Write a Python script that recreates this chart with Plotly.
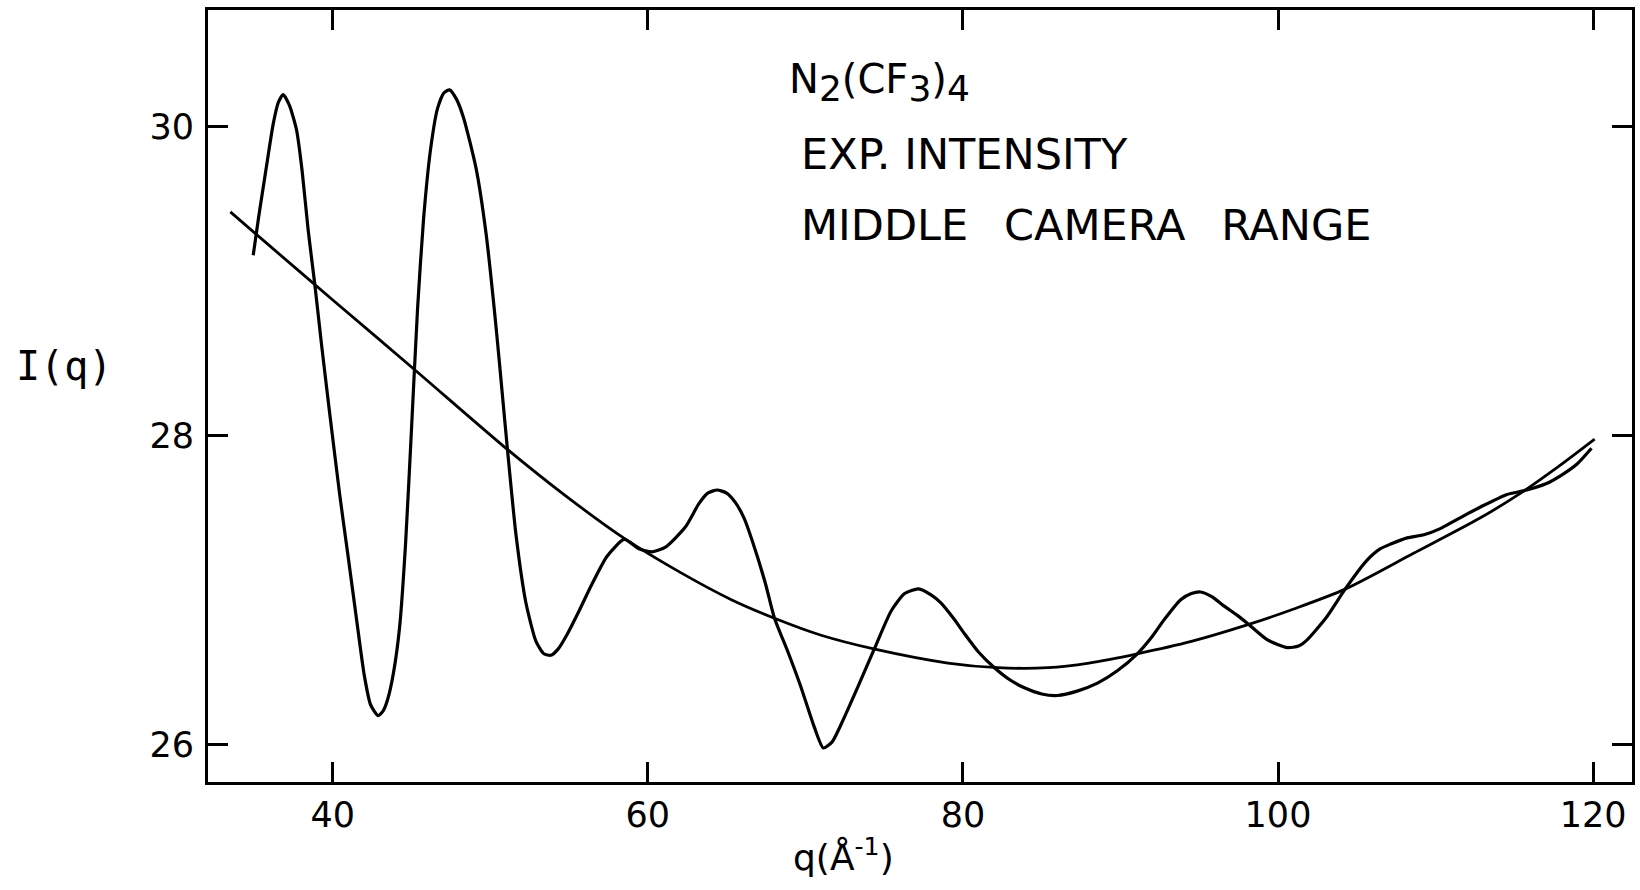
import plotly.graph_objects as go

# Experimental intensity I(q)
exp_q = [34.95, 35.30, 35.80, 36.22, 36.55, 36.85, 37.25, 37.70, 38.05, 38.44, 38.86, 39.30, 39.80,
         40.44, 41.00, 41.50, 42.00, 42.40, 42.87, 43.20, 43.50, 43.86, 44.24, 44.62, 45.00, 45.38,
         45.76, 46.20, 46.65, 47.05, 47.41, 47.85, 48.30, 49.10, 49.73, 50.37, 50.79, 51.10, 51.63,
         52.26, 52.90, 53.40, 53.84, 54.30, 54.90, 55.60, 56.40, 57.40, 58.50, 59.43, 60.27, 61.12,
         62.38, 63.23, 63.80, 64.40, 65.00, 65.55, 66.10, 66.60, 67.45, 68.04, 68.90, 69.70, 70.55,
         71.14, 71.70, 72.30, 73.35, 74.41, 75.46, 76.30, 77.18, 78.00, 78.60, 79.40, 80.10, 81.00,
         82.00, 83.00, 83.90, 85.00, 86.00, 87.30, 88.54, 89.80, 91.07, 92.00, 92.77, 93.82, 94.50,
         95.08, 95.80, 96.56, 97.40, 98.14, 99.33, 100.60, 101.30, 101.85, 103.10, 104.27, 105.60,
         106.50, 107.15, 108.20, 109.26, 110.30, 111.20, 112.10, 112.85, 114.50, 115.80, 117.00,
         117.90, 119.00, 119.90]
exp_I = [29.17, 29.42, 29.75, 30.02, 30.16, 30.21, 30.14, 29.98, 29.72, 29.33, 28.98, 28.58, 28.15,
         27.62, 27.20, 26.82, 26.45, 26.26, 26.19, 26.22, 26.30, 26.47, 26.76, 27.30, 28.05, 28.82,
         29.40, 29.85, 30.12, 30.22, 30.24, 30.18, 30.06, 29.73, 29.31, 28.70, 28.24, 27.90, 27.36,
         26.92, 26.67, 26.59, 26.58, 26.62, 26.72, 26.86, 27.03, 27.22, 27.33, 27.27, 27.25, 27.28,
         27.41, 27.56, 27.63, 27.65, 27.63, 27.57, 27.47, 27.33, 27.05, 26.82, 26.60, 26.38, 26.12,
         25.98, 26.02, 26.14, 26.38, 26.63, 26.87, 26.98, 27.01, 26.97, 26.92, 26.82, 26.72, 26.60,
         26.50, 26.42, 26.37, 26.33, 26.32, 26.35, 26.40, 26.48, 26.59, 26.70, 26.81, 26.94, 26.98,
         26.99, 26.96, 26.90, 26.84, 26.78, 26.68, 26.63, 26.64, 26.68, 26.83, 27.01, 27.19,
         27.27, 27.30, 27.34, 27.36, 27.40, 27.45, 27.50, 27.54, 27.62, 27.65, 27.69,
         27.74, 27.82, 27.92]

# Smooth background curve
bg_q = [33.5, 36.0, 40.0, 45.07, 51.0, 54.68, 58.6, 62.0, 65.3, 68.04, 71.0, 74.41, 79.05, 82.2,
        85.4, 88.0, 91.07, 94.5, 98.14, 101.0, 104.3, 108.6, 112.85, 115.4, 117.9, 120.1]
bg_I = [29.45, 29.23, 28.88, 28.44, 27.92, 27.62, 27.33, 27.12, 26.94, 26.82, 26.71, 26.62, 26.53,
        26.50, 26.50, 26.53, 26.59, 26.67, 26.78, 26.88, 27.01, 27.24, 27.47, 27.63, 27.81, 27.98]

x_ticks = [40, 60, 80, 100, 120]
y_ticks = [26, 28, 30]

W, H = 1640, 890
L, R, T, B = 208, 1635, 10, 782


def px(xpix):
    return (xpix - L) / (R - L)


def py(ypix):
    return (B - ypix) / (B - T)


fig = go.Figure()
fig.add_trace(go.Scatter(x=bg_q, y=bg_I, mode="lines",
                         line=dict(color="black", width=2.8, shape="spline", smoothing=0.8),
                         showlegend=False, hoverinfo="skip"))
fig.add_trace(go.Scatter(x=exp_q, y=exp_I, mode="lines",
                         line=dict(color="black", width=3.2, shape="spline", smoothing=0.6),
                         showlegend=False, hoverinfo="skip"))

axis_common = dict(showline=True, linecolor="black", linewidth=3, mirror="ticks",
                   ticks="inside", ticklen=20, tickwidth=3, tickcolor="black",
                   showgrid=False, zeroline=False,
                   tickfont=dict(family="DejaVu Sans", size=35, color="black"))

fig.update_xaxes(range=[32.08, 122.47], tickvals=x_ticks, ticktext=[str(v) for v in x_ticks],
                 **axis_common)
fig.update_yaxes(range=[25.76, 30.757], tickvals=y_ticks, ticktext=[str(v) for v in y_ticks],
                 ticklabelstandoff=4, **axis_common)

txt_font = dict(family="DejaVu Sans", size=43, color="black")
sub = "<sub><span style='font-size:36px'>{}</span></sub>"
annotations = [
    dict(text="N" + sub.format("2") + "(CF" + sub.format("3") + ")" + sub.format("4"),
         x=px(788), y=py(82), xanchor="left", yanchor="middle",
         font=dict(family="DejaVu Sans", size=40, color="black")),
    dict(text="EXP. INTENSITY", x=px(800), y=py(154), xanchor="left", yanchor="middle", font=txt_font),
    dict(text="MIDDLE\u00a0\u00a0\u2009CAMERA\u00a0\u00a0\u2009RANGE", x=px(800), y=py(225),
         xanchor="left", yanchor="middle", font=txt_font),
    dict(text="I(q)", x=px(64), y=py(366), xanchor="center", yanchor="middle",
         font=dict(family="DejaVu Sans Mono", size=40, color="black")),
    dict(text="q(Å<sup>-1</sup>)", x=px(845), y=py(855), xanchor="center", yanchor="middle",
         font=dict(family="DejaVu Sans", size=36, color="black")),
]
for a in annotations:
    a.update(xref="paper", yref="paper", showarrow=False)

fig.update_layout(width=W, height=H, margin=dict(l=L, r=W - R, t=T, b=H - B),
                  paper_bgcolor="white", plot_bgcolor="white", annotations=annotations)

fig.write_html("out.html")
